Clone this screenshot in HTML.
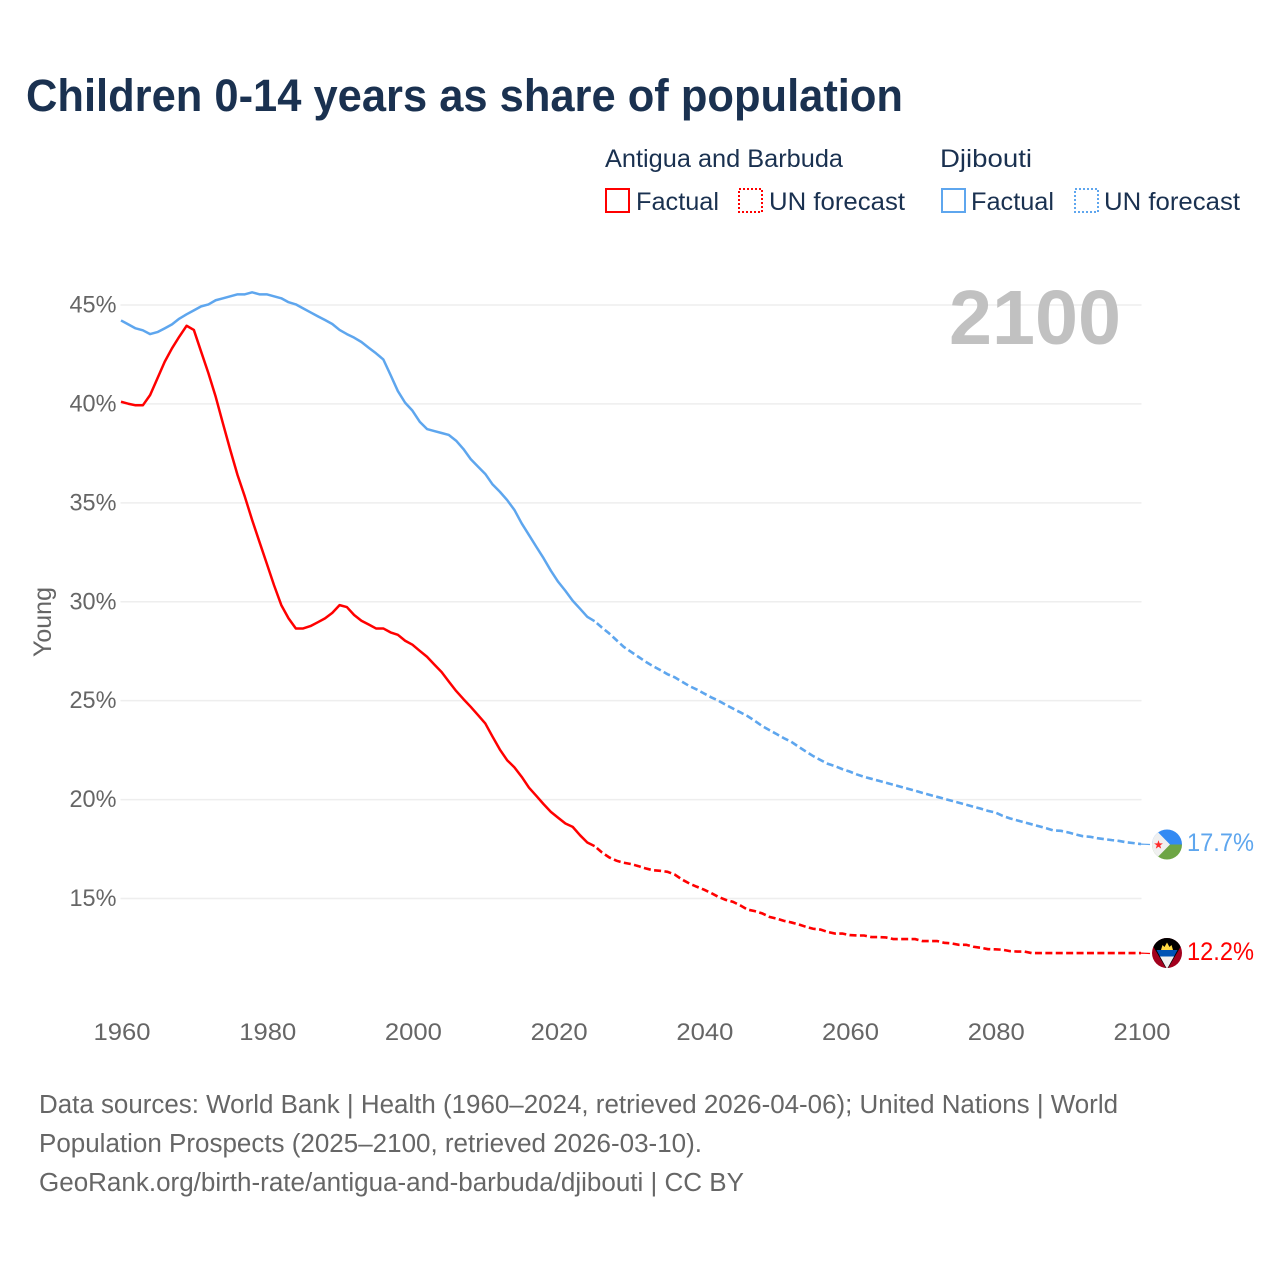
<!DOCTYPE html>
<html lang="en">
<head>
<meta charset="utf-8">
<title>Children 0-14 years as share of population</title>
<style>
html,body{margin:0;padding:0;background:#fff;width:1280px;height:1280px;overflow:hidden}
svg{display:block}
text{font-family:"Liberation Sans",sans-serif}
.leg{font-size:25px;fill:#1a3150}
.foot{font-size:25.5px;fill:#666}
.tick{font-size:24.5px;fill:#666}
</style>
</head>
<body>
<svg id="chart" xmlns="http://www.w3.org/2000/svg" width="1280" height="1280" viewBox="0 0 1280 1280">
  <defs>
    <clipPath id="clip-dj"><circle cx="1167" cy="844.5" r="15"/></clipPath>
    <clipPath id="clip-ag"><circle cx="1167" cy="953" r="15"/></clipPath>
  </defs>
  <rect width="1280" height="1280" fill="#fff"/>
  <text x="26" y="111" font-size="45" font-weight="700" fill="#1a3150" textLength="877" lengthAdjust="spacingAndGlyphs">Children 0-14 years as share of population</text>

  <g>
    <text class="leg" x="605" y="167" textLength="238" lengthAdjust="spacingAndGlyphs">Antigua and Barbuda</text>
    <text class="leg" x="940" y="167" textLength="92" lengthAdjust="spacingAndGlyphs">Djibouti</text>
    <rect x="606" y="189" width="23" height="23" fill="none" stroke="#ff0000" stroke-width="2"/>
    <text class="leg" x="636" y="210" textLength="83" lengthAdjust="spacingAndGlyphs">Factual</text>
    <rect x="739" y="189" width="23" height="23" fill="none" stroke="#ff0000" stroke-width="2" stroke-dasharray="2 2"/>
    <text class="leg" x="769" y="210" textLength="136" lengthAdjust="spacingAndGlyphs">UN forecast</text>
    <rect x="942" y="189" width="23" height="23" fill="none" stroke="#5ea6ee" stroke-width="2"/>
    <text class="leg" x="971" y="210" textLength="83" lengthAdjust="spacingAndGlyphs">Factual</text>
    <rect x="1075" y="189" width="23" height="23" fill="none" stroke="#5ea6ee" stroke-width="2" stroke-dasharray="2 2"/>
    <text class="leg" x="1104" y="210" textLength="136" lengthAdjust="spacingAndGlyphs">UN forecast</text>
  </g>

  <text transform="translate(51,622) rotate(-90)" text-anchor="middle" font-size="25" fill="#666" textLength="70" lengthAdjust="spacingAndGlyphs">Young</text>

  <g id="grid"></g>
  <g id="yticks"></g>
  <g id="xticks"></g>

  <text x="949" y="344" font-size="77" font-weight="700" fill="#c1c1c1" textLength="172" lengthAdjust="spacingAndGlyphs">2100</text>

  <g id="series"></g>

  <g clip-path="url(#clip-dj)">
    <rect x="1150" y="828" width="34" height="16.5" fill="#338af3"/>
    <rect x="1150" y="844.5" width="34" height="17" fill="#6da544"/>
    <polygon points="1148,822 1170,844.5 1148,867" fill="#f0f0f0"/>
    <polygon points="1158.5,840.3 1159.6,843.4 1162.9,843.4 1160.2,845.4 1161.2,848.6 1158.5,846.7 1155.8,848.6 1156.8,845.4 1154.1,843.4 1157.4,843.4" fill="#ff2a2a"/>
  </g>
  <g clip-path="url(#clip-ag)">
    <rect x="1150" y="936" width="34" height="34" fill="#a2001d"/>
    <polygon points="1150,936 1184,936 1184,941 1167,970 1150,941" fill="#000"/>
    <polygon points="1161,950 1162.5,945 1164.5,947 1167,942.5 1169.5,947 1171.5,945 1173,950" fill="#ffda44"/>
    <polygon points="1156.5,950 1177.5,950 1174,956.5 1160,956.5" fill="#0052b4"/>
    <polygon points="1160,956.5 1174,956.5 1167,969" fill="#f0f0f0"/>
  </g>

  <text id="end-dj" x="1187" y="851" font-size="25" fill="#5ea6ee" textLength="67" lengthAdjust="spacingAndGlyphs"></text>
  <text id="end-ag" x="1187" y="960" font-size="25" fill="#ff0000" textLength="67" lengthAdjust="spacingAndGlyphs"></text>

  <g>
    <text class="foot" x="39" y="1113" textLength="1079" lengthAdjust="spacingAndGlyphs">Data sources: World Bank | Health (1960–2024, retrieved 2026-04-06); United Nations | World</text>
    <text class="foot" x="39" y="1152" textLength="663" lengthAdjust="spacingAndGlyphs">Population Prospects (2025–2100, retrieved 2026-03-10).</text>
    <text class="foot" x="39" y="1191" textLength="705" lengthAdjust="spacingAndGlyphs">GeoRank.org/birth-rate/antigua-and-barbuda/djibouti | CC BY</text>
  </g>
</svg>
<script>
// Chart data (share of population aged 0-14, %), one value per year from 1960
const firstYear = 1960;
const lastFactualYear = 2025;
const xTickYears = [1960, 1980, 2000, 2020, 2040, 2060, 2080, 2100];
const yTickValues = [15, 20, 25, 30, 35, 40, 45];
const antiguaValues = [
  40.11,40.01,39.93,39.93,40.45,41.29,42.13,42.81,43.40,43.95,
  43.74,42.64,41.55,40.36,39.00,37.67,36.40,35.31,34.13,33.03,
  31.94,30.84,29.83,29.16,28.65,28.65,28.77,28.96,29.16,29.44,
  29.83,29.73,29.33,29.04,28.85,28.65,28.65,28.45,28.33,28.03,
  27.83,27.52,27.22,26.83,26.45,25.96,25.49,25.08,24.69,24.27,
  23.85,23.18,22.53,21.99,21.63,21.15,20.60,20.19,19.77,19.38,
  19.08,18.79,18.62,18.20,17.83,17.65,17.33,17.08,16.91,16.81,
  16.74,16.64,16.52,16.43,16.40,16.35,16.21,15.96,15.76,15.60,
  15.45,15.28,15.08,14.93,14.83,14.65,14.44,14.36,14.25,14.07,
  13.98,13.87,13.79,13.69,13.57,13.47,13.43,13.31,13.23,13.23,
  13.15,13.13,13.13,13.05,13.05,13.03,12.95,12.95,12.95,12.95,
  12.85,12.85,12.85,12.76,12.73,12.66,12.66,12.56,12.51,12.44,
  12.43,12.41,12.34,12.32,12.32,12.24,12.24,12.24,12.24,12.24,
  12.24,12.24,12.24,12.24,12.24,12.24,12.24,12.24,12.24,12.24,12.24
];
const djiboutiValues = [
  44.22,44.02,43.82,43.72,43.53,43.63,43.82,44.02,44.31,44.53,
  44.73,44.93,45.03,45.24,45.34,45.44,45.54,45.54,45.64,45.54,
  45.54,45.44,45.34,45.14,45.03,44.83,44.63,44.43,44.24,44.04,
  43.74,43.53,43.35,43.13,42.84,42.56,42.25,41.46,40.65,40.06,
  39.66,39.10,38.73,38.63,38.53,38.43,38.14,37.72,37.21,36.83,
  36.46,35.93,35.56,35.14,34.64,33.96,33.37,32.78,32.20,31.57,
  31.01,30.55,30.05,29.65,29.24,29.02,28.70,28.40,28.06,27.72,
  27.47,27.22,26.97,26.75,26.55,26.34,26.18,25.96,25.74,25.57,
  25.37,25.17,25.00,24.79,24.60,24.41,24.22,23.98,23.72,23.51,
  23.31,23.10,22.92,22.67,22.43,22.20,22.00,21.81,21.69,21.54,
  21.42,21.27,21.15,21.05,20.95,20.85,20.75,20.65,20.55,20.45,
  20.34,20.24,20.14,20.04,19.94,19.84,19.74,19.64,19.54,19.43,
  19.35,19.18,19.05,18.95,18.85,18.75,18.65,18.55,18.44,18.42,
  18.34,18.24,18.15,18.12,18.05,18.00,17.95,17.91,17.84,17.80,17.75
];
const antiguaEndLabel = "12.2%";
const djiboutiEndLabel = "17.7%";

const NS = "http://www.w3.org/2000/svg";
function xScale(year) { return 121 + (year - 1960) * (1020 / 140); }
function yScale(v) { return 305 + (45 - v) * (593.5 / 30); }

function svgEl(tag, parent, attrs) {
  const el = document.createElementNS(NS, tag);
  for (const k in attrs) el.setAttribute(k, attrs[k]);
  parent.appendChild(el);
  return el;
}
function pathFrom(values, fromIdx, toIdx) {
  let d = "";
  for (let i = fromIdx; i <= toIdx; i++) {
    d += (i === fromIdx ? "M" : "L") + xScale(firstYear + i).toFixed(2) + " " + yScale(values[i]).toFixed(2);
  }
  return d;
}

const gridGroup = document.getElementById("grid");
const yGroup = document.getElementById("yticks");
yTickValues.forEach(function (v) {
  const line = svgEl("line", gridGroup, {
    x1: 120.5, x2: 1141.5, y1: yScale(v), y2: yScale(v),
    stroke: "#eeeeee", "stroke-width": 1.5
  });
  
  
  const t = svgEl("text", yGroup, {
    x: 116.5, y: yScale(v) + 7.5, "text-anchor": "end", "class": "tick",
    textLength: 47, lengthAdjust: "spacingAndGlyphs"
  });
  
  
  t.textContent = v + "%";
});

const xGroup = document.getElementById("xticks");
xTickYears.forEach(function (yr) {
  const t = svgEl("text", xGroup, {
    x: xScale(yr) + 1, y: 1040, "text-anchor": "middle", "class": "tick",
    textLength: 57, lengthAdjust: "spacingAndGlyphs"
  });
  
  
  t.textContent = String(yr);
});

const seriesGroup = document.getElementById("series");
function drawSeries(values, color, name) {
  const split = lastFactualYear - firstYear;
  const last = values.length - 1;
  const solid = svgEl("path", seriesGroup, {
    d: pathFrom(values, 0, split), fill: "none", stroke: color,
    "stroke-width": 2.5, "stroke-linejoin": "round"
  });
  
  
  const dashed = svgEl("path", seriesGroup, {
    d: pathFrom(values, split, last), fill: "none", stroke: color,
    "stroke-width": 2.6, "stroke-dasharray": "7 3.4", "stroke-dashoffset": -3
  });
  
  
  const conn = svgEl("line", seriesGroup, {
    x1: xScale(firstYear + last), y1: yScale(values[last]),
    x2: 1150, y2: yScale(values[last]) + 0.4,
    stroke: color, "stroke-width": 1.2
  });
  
  
}
drawSeries(djiboutiValues, "#5ea6ee", "djibouti");
drawSeries(antiguaValues, "#ff0000", "antigua");

document.getElementById("end-dj").textContent = djiboutiEndLabel;
document.getElementById("end-ag").textContent = antiguaEndLabel;
</script>
</body>
</html>
